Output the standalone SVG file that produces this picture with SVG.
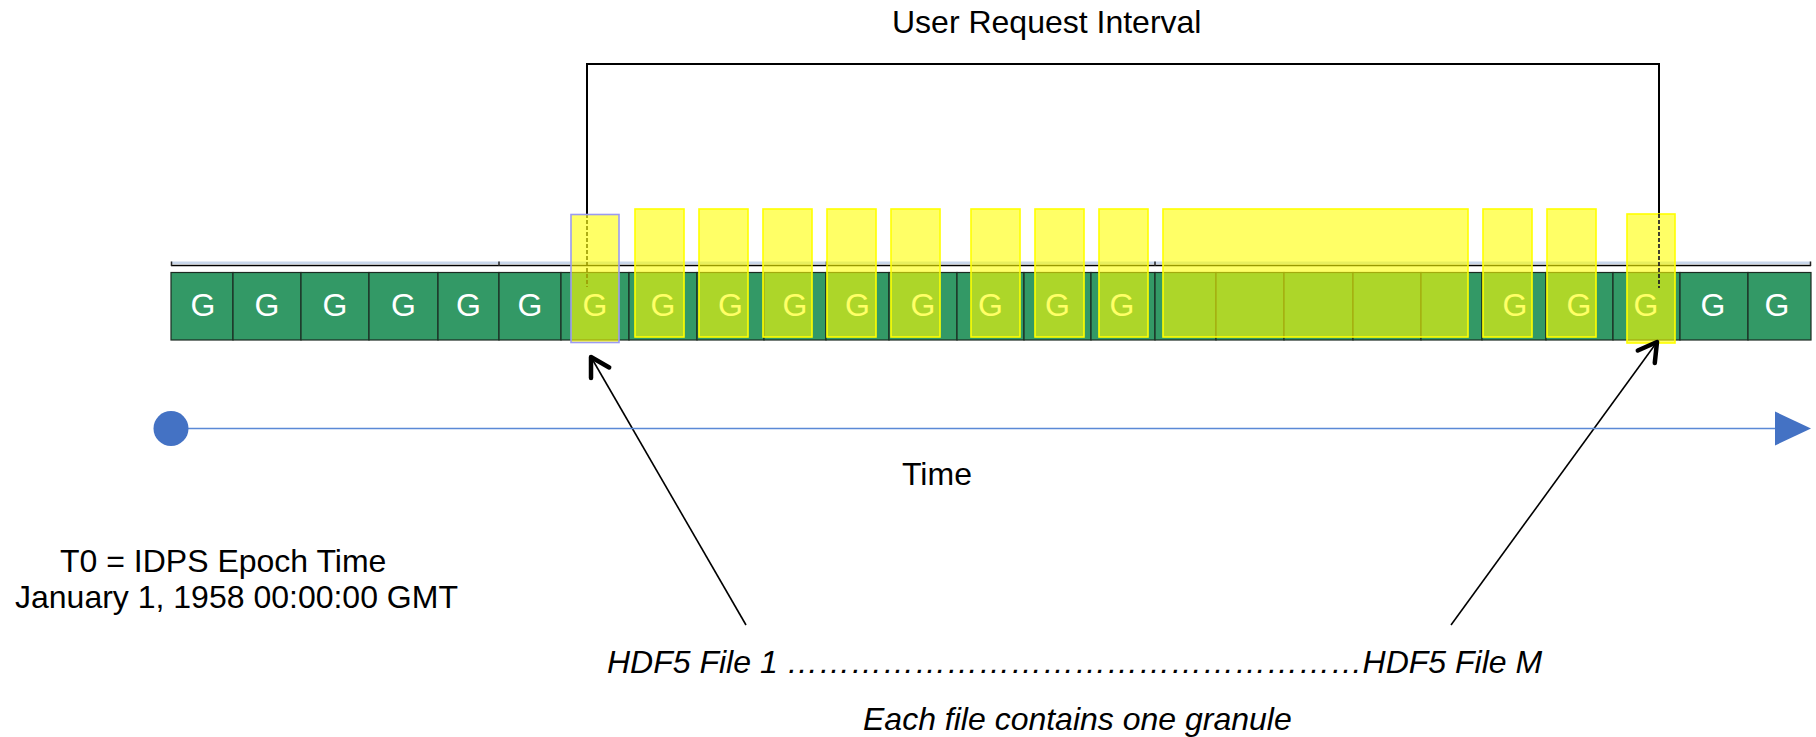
<svg xmlns="http://www.w3.org/2000/svg" width="1816" height="737" viewBox="0 0 1816 737">
  <defs>
    <style>
      .cell { fill: #339966; stroke: #1c2b22; stroke-width: 1.2; }
      .g { font-family: "Liberation Sans", Arial, sans-serif; font-size: 32px; fill: #ffffff; text-anchor: middle; }
      .sel { fill: #ffff00; fill-opacity: 0.6; stroke: #ffff00; stroke-width: 1.6; }
      .sel.first { stroke: #9b9bf2; }
      .lbl { font-family: "Liberation Sans", Arial, sans-serif; font-size: 32px; fill: #000000; }
      .it { font-style: italic; }
      .wire { fill: none; stroke: #000000; stroke-width: 2; }
      .dash { fill: none; stroke-width: 1.6; stroke-dasharray: 4 2; }
      .ptr { fill: none; stroke: #000000; stroke-width: 1.6; marker-end: url(#open-head); }
    </style>
    <marker id="open-head" markerUnits="userSpaceOnUse" viewBox="-24 -14 28 28" refX="0" refY="0" markerWidth="28" markerHeight="28" orient="auto">
      <path d="M-18.2,-10.5 L0,0 L-18.2,10.5" fill="none" stroke="#000000" stroke-width="4.5" stroke-linecap="round" stroke-linejoin="round"/>
    </marker>
  </defs>

  <rect width="1816" height="737" fill="#ffffff"/>

  <!-- title -->
  <text class="lbl" x="892" y="33">User Request Interval</text>

  <!-- group rulers above the granule strip -->
  <g id="ruler">
    <line x1="171" y1="262.8" x2="1811" y2="262.8" stroke="#c8d6ea" stroke-width="2.5"/>
    <line x1="171" y1="265.5" x2="1811" y2="265.5" stroke="#000000" stroke-width="1.5"/>
    <path d="M171.5,261.5 V266 M499,261.5 V266 M826.5,261.5 V266 M1155,261.5 V266 M1810.5,261.5 V266" stroke="#222222" stroke-width="1.5"/>
  </g>

  <!-- granule strip -->
  <g id="granules">
    <g id="granule-01"><rect class="cell" x="171" y="272.5" width="62" height="67.5"/><text class="g" x="203" y="316">G</text></g>
    <g id="granule-02"><rect class="cell" x="233" y="272.5" width="68" height="67.5"/><text class="g" x="267" y="316">G</text></g>
    <g id="granule-03"><rect class="cell" x="301" y="272.5" width="68" height="67.5"/><text class="g" x="335" y="316">G</text></g>
    <g id="granule-04"><rect class="cell" x="369" y="272.5" width="69" height="67.5"/><text class="g" x="403.5" y="316">G</text></g>
    <g id="granule-05"><rect class="cell" x="438" y="272.5" width="61" height="67.5"/><text class="g" x="468.5" y="316">G</text></g>
    <g id="granule-06"><rect class="cell" x="499" y="272.5" width="62" height="67.5"/><text class="g" x="530" y="316">G</text></g>
    <g id="granule-07"><rect class="cell" x="561" y="272.5" width="68" height="67.5"/><text class="g" x="595" y="316">G</text></g>
    <g id="granule-08"><rect class="cell" x="629" y="272.5" width="68" height="67.5"/><text class="g" x="663" y="316">G</text></g>
    <g id="granule-09"><rect class="cell" x="697" y="272.5" width="67" height="67.5"/><text class="g" x="730.5" y="316">G</text></g>
    <g id="granule-10"><rect class="cell" x="764" y="272.5" width="62" height="67.5"/><text class="g" x="795" y="316">G</text></g>
    <g id="granule-11"><rect class="cell" x="826" y="272.5" width="63" height="67.5"/><text class="g" x="857.5" y="316">G</text></g>
    <g id="granule-12"><rect class="cell" x="889" y="272.5" width="68" height="67.5"/><text class="g" x="923" y="316">G</text></g>
    <g id="granule-13"><rect class="cell" x="957" y="272.5" width="67" height="67.5"/><text class="g" x="990.5" y="316">G</text></g>
    <g id="granule-14"><rect class="cell" x="1024" y="272.5" width="67" height="67.5"/><text class="g" x="1057.5" y="316">G</text></g>
    <g id="granule-15"><rect class="cell" x="1091" y="272.5" width="64" height="67.5"/><text class="g" x="1122" y="316">G</text></g>
    <g id="granule-16"><rect class="cell" x="1155" y="272.5" width="61" height="67.5"/></g>
    <g id="granule-17"><rect class="cell" x="1216" y="272.5" width="68" height="67.5"/></g>
    <g id="granule-18"><rect class="cell" x="1284" y="272.5" width="69" height="67.5"/></g>
    <g id="granule-19"><rect class="cell" x="1353" y="272.5" width="68" height="67.5"/></g>
    <g id="granule-20"><rect class="cell" x="1421" y="272.5" width="61" height="67.5"/></g>
    <g id="granule-21"><rect class="cell" x="1482" y="272.5" width="64" height="67.5"/><text class="g" x="1515" y="316">G</text></g>
    <g id="granule-22"><rect class="cell" x="1546" y="272.5" width="67" height="67.5"/><text class="g" x="1579" y="316">G</text></g>
    <g id="granule-23"><rect class="cell" x="1613" y="272.5" width="67" height="67.5"/><text class="g" x="1646" y="316">G</text></g>
    <g id="granule-24"><rect class="cell" x="1680" y="272.5" width="68" height="67.5"/><text class="g" x="1713" y="316">G</text></g>
    <g id="granule-25"><rect class="cell" x="1748" y="272.5" width="63" height="67.5"/><text class="g" x="1777" y="316">G</text></g>
  </g>

  <!-- interval bracket: lower part of the start leg sits beneath the highlights -->
  <g id="connectors">
    <path class="wire" d="M587,214 V64 H1659 V214"/>
    <path class="dash" stroke="#000000" d="M587,214 V287"/>
  </g>

  <!-- requested granules (one file each) -->
  <g id="selection">
    <rect id="file-1" class="sel first" x="571" y="214.5" width="48" height="128"/>
    <rect id="file-2" class="sel" x="635" y="209" width="49" height="128"/>
    <rect id="file-3" class="sel" x="699" y="209" width="49" height="128"/>
    <rect id="file-4" class="sel" x="763" y="209" width="49" height="128"/>
    <rect id="file-5" class="sel" x="827" y="209" width="49" height="128"/>
    <rect id="file-6" class="sel" x="891" y="209" width="49" height="128"/>
    <rect id="file-7" class="sel" x="971" y="209" width="49" height="128"/>
    <rect id="file-8" class="sel" x="1035" y="209" width="49" height="128"/>
    <rect id="file-9" class="sel" x="1099" y="209" width="49" height="128"/>
    <rect id="file-span" class="sel" x="1163" y="209" width="305" height="128"/>
    <rect id="file-10" class="sel" x="1483" y="209" width="49" height="128"/>
    <rect id="file-11" class="sel" x="1547" y="209" width="49" height="128"/>
    <rect id="file-m" class="sel" x="1627" y="214" width="48" height="129"/>
  </g>

  <g id="connectors-top">
    <path class="dash" stroke="#111122" d="M1659,214 V288"/>
    <path id="ptr-first" class="ptr" d="M746,625 L591,357"/>
    <path id="ptr-last" class="ptr" d="M1451,625 L1657,342"/>
  </g>

  <!-- time axis -->
  <g id="time-axis">
    <line x1="171" y1="428.5" x2="1777" y2="428.5" stroke="#5a89d6" stroke-width="1.6"/>
    <circle cx="171" cy="428.5" r="17.5" fill="#4472c4"/>
    <polygon points="1775,411.5 1811,428.5 1775,445.5" fill="#4472c4"/>
    <text class="lbl" x="902" y="485" font-size="31">Time</text>
  </g>

  <g id="epoch-label">
    <text class="lbl" x="60" y="572">T0 = IDPS Epoch Time</text>
    <text class="lbl" x="15" y="608">January 1, 1958 00:00:00 GMT</text>
  </g>

  <g id="files-label">
    <text class="lbl it" x="607" y="673">HDF5 File 1 ………………………………………………HDF5 File M</text>
    <text class="lbl it" x="863" y="730">Each file contains one granule</text>
  </g>
</svg>
